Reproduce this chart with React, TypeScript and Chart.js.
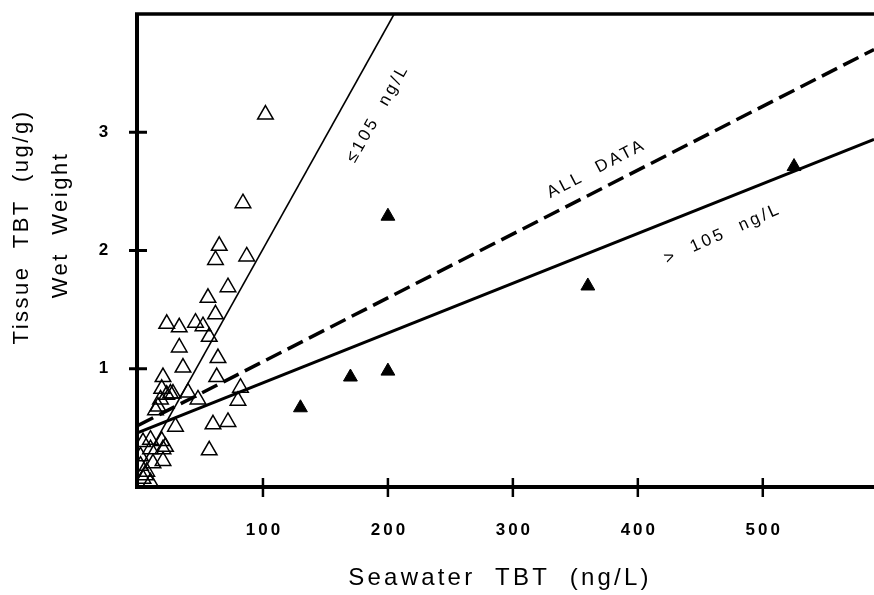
import React, { useEffect, useRef } from 'react';
import { Chart, registerables } from 'chart.js';

Chart.register(...registerables);

// Open triangles: seawater TBT <= 105 ng/L
const lowX = [102, 84, 87, 65, 62, 72, 56, 62, 23, 33, 46, 52, 57, 33, 36, 64, 63, 20, 19, 18, 26, 82, 80, 40, 48, 16, 60, 72, 30, 57, 19, 20, 20, 4, 10, 2, 7, 4, 10, 2, 14, 23, 28, 22, 10, 12, 6];
const lowY = [3.15, 2.4, 1.95, 2.04, 1.92, 1.69, 1.6, 1.46, 1.38, 1.35, 1.39, 1.36, 1.27, 1.18, 1.01, 1.09, 0.93, 0.93, 0.83, 0.74, 0.79, 0.84, 0.73, 0.8, 0.74, 0.68, 0.53, 0.55, 0.51, 0.31, 0.39, 0.32, 0.22, 0.38, 0.32, 0.18, 0.13, 0.07, 0.04, 0.26, 0.65, 0.78, 0.79, 0.34, 0.4, 0.2, 0.1];

// Filled triangles: seawater TBT > 105 ng/L
const highX = [130, 170, 200, 200, 360, 525];
const highY = [0.67, 0.93, 2.29, 0.98, 1.7, 2.71];

// Regression lines (end points)
const fitLowX = [0, 205];
const fitLowY = [0.12, 4.0];
const fitAllX = [0, 589];
const fitAllY = [0.52, 3.7];
const fitHighX = [0, 589];
const fitHighY = [0.46, 2.94];

// Axis ticks
const xTicks = [100, 200, 300, 400, 500];
const yTicks = [1, 2, 3];

// Line labels
const labelTexts = ['\u2264105  ng/L', 'ALL  DATA', '>  105  ng/L'];
const labelX = [192, 367, 468];
const labelY = [3.16, 2.69, 2.14];
const labelAngle = [-60.5, -27.5, -24];

const xTitle = 'Seawater  TBT  (ng/L)';
const yTitle1 = 'Tissue  TBT  (ug/g)';
const yTitle2 = 'Wet  Weight';

const FONT = '"Liberation Sans", Arial, Helvetica, sans-serif';

const pts = (xs: number[], ys: number[]) => xs.map((x, i) => ({ x, y: ys[i] }));

const decorPlugin = {
  id: 'decor',
  afterDraw(chart: any) {
    const { ctx, chartArea, scales } = chart;
    const xs = scales.x;
    const ys = scales.y;
    ctx.save();
    ctx.strokeStyle = '#000';
    ctx.fillStyle = '#000';
    ctx.lineCap = 'butt';
    // frame
    ctx.lineWidth = 4;
    ctx.beginPath();
    ctx.moveTo(chartArea.left - 1, chartArea.top - 1);
    ctx.lineTo(chartArea.left - 1, chartArea.bottom + 1);
    ctx.stroke();
    ctx.lineWidth = 3.5;
    ctx.beginPath();
    ctx.moveTo(chartArea.left - 3, chartArea.top);
    ctx.lineTo(chartArea.right, chartArea.top);
    ctx.stroke();
    ctx.lineWidth = 4;
    ctx.beginPath();
    ctx.moveTo(chartArea.left - 3, chartArea.bottom);
    ctx.lineTo(chartArea.right, chartArea.bottom);
    ctx.stroke();
    // tick marks crossing the axes
    ctx.lineWidth = 3;
    ys.ticks.forEach((t: any) => {
      const py = ys.getPixelForValue(t.value);
      ctx.beginPath();
      ctx.moveTo(chartArea.left - 9, py);
      ctx.lineTo(chartArea.left + 9, py);
      ctx.stroke();
    });
    ctx.lineWidth = 2.5;
    xs.ticks.forEach((t: any) => {
      const px = xs.getPixelForValue(t.value);
      ctx.beginPath();
      ctx.moveTo(px, chartArea.bottom - 9);
      ctx.lineTo(px, chartArea.bottom + 10);
      ctx.stroke();
    });
    // tick labels
    ctx.font = 'bold 17px ' + FONT;
    (ctx as any).letterSpacing = '3px';
    ctx.textAlign = 'center';
    ctx.textBaseline = 'middle';
    xs.ticks.forEach((t: any) => {
      ctx.fillText(String(t.value), xs.getPixelForValue(t.value) + 1.5, chartArea.bottom + 43);
    });
    ys.ticks.forEach((t: any) => {
      ctx.fillText(String(t.value), 105, ys.getPixelForValue(t.value));
    });
    // axis titles
    ctx.font = '24px ' + FONT;
    (ctx as any).letterSpacing = '3.2px';
    ctx.fillText(xTitle, 500, 578);
    ctx.font = '22px ' + FONT;
    (ctx as any).letterSpacing = '2.5px';
    ctx.save();
    ctx.translate(22, 227);
    ctx.rotate(-Math.PI / 2);
    ctx.fillText(yTitle1, 0, 0);
    ctx.restore();
    ctx.save();
    ctx.translate(61, 225);
    ctx.rotate(-Math.PI / 2);
    ctx.fillText(yTitle2, 0, 0);
    ctx.restore();
    // line labels
    ctx.font = '17px ' + FONT;
    (ctx as any).letterSpacing = '3px';
    labelTexts.forEach((txt, i) => {
      ctx.save();
      ctx.translate(xs.getPixelForValue(labelX[i]), ys.getPixelForValue(labelY[i]));
      ctx.rotate((labelAngle[i] * Math.PI) / 180);
      ctx.fillText(txt, 0, 0);
      ctx.restore();
    });
    ctx.restore();
  },
};

export default function App() {
  const canvasRef = useRef<HTMLCanvasElement | null>(null);

  useEffect(() => {
    const canvas = canvasRef.current;
    if (!canvas) return;
    const chart = new Chart(canvas, {
      type: 'scatter',
      data: {
        datasets: [
          {
            label: 'fit <= 105',
            data: pts(fitLowX, fitLowY),
            showLine: true,
            borderColor: '#000',
            borderWidth: 1.6,
            pointRadius: 0,
            fill: false,
          },
          {
            label: 'all data',
            data: pts(fitAllX, fitAllY),
            showLine: true,
            borderColor: '#000',
            borderWidth: 3.5,
            borderDash: [17, 7],
            pointRadius: 0,
            fill: false,
          },
          {
            label: 'fit > 105',
            data: pts(fitHighX, fitHighY),
            showLine: true,
            borderColor: '#000',
            borderWidth: 3,
            pointRadius: 0,
            fill: false,
          },
          {
            label: '<= 105 ng/L',
            data: pts(lowX, lowY),
            pointStyle: 'triangle',
            pointRadius: 9,
            borderWidth: 1.5,
            borderColor: '#000',
            backgroundColor: 'rgba(0,0,0,0)',
          },
          {
            label: '> 105 ng/L',
            data: pts(highX, highY),
            pointStyle: 'triangle',
            pointRadius: 8,
            borderWidth: 1,
            borderColor: '#000',
            backgroundColor: '#000',
          },
        ],
      },
      options: {
        responsive: false,
        animation: false,
        devicePixelRatio: 1,
        layout: { autoPadding: false, padding: { top: 14, left: 0, right: 0, bottom: 0 } },
        plugins: {
          legend: { display: false },
          tooltip: { enabled: false },
          title: { display: false },
        },
        scales: {
          x: {
            type: 'linear',
            min: 0,
            max: 589,
            afterBuildTicks: (s: any) => {
              s.ticks = xTicks.map((v) => ({ value: v }));
            },
            afterFit: (s: any) => {
              s.height = 108;
            },
            ticks: { display: false },
            grid: { display: false, drawTicks: false, tickLength: 0 },
            border: { display: false },
          },
          y: {
            type: 'linear',
            min: 0,
            max: 4,
            afterBuildTicks: (s: any) => {
              s.ticks = yTicks.map((v) => ({ value: v }));
            },
            afterFit: (s: any) => {
              s.width = 138;
            },
            ticks: { display: false },
            grid: { display: false, drawTicks: false, tickLength: 0 },
            border: { display: false },
          },
        },
      },
      plugins: [decorPlugin],
    } as any);
    return () => chart.destroy();
  }, []);

  return (
    <div style={{ position: 'fixed', left: 0, top: 0, width: 874, height: 595, background: '#fff' }}>
      <canvas ref={canvasRef} width={874} height={595} style={{ display: 'block', width: 874, height: 595 }} />
    </div>
  );
}
